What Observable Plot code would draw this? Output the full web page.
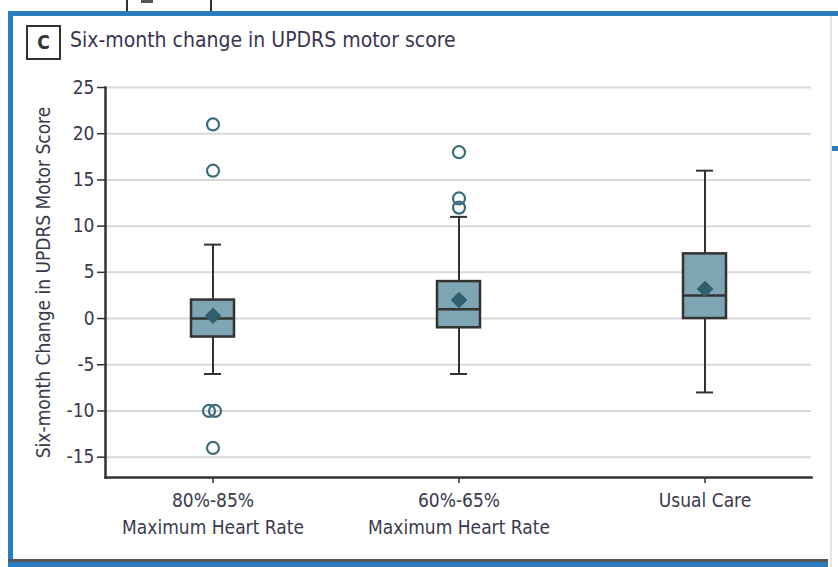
<!DOCTYPE html>
<html>
<head>
<meta charset="utf-8">
<script src="https://cdn.jsdelivr.net/npm/d3@7"></script>
<script src="https://cdn.jsdelivr.net/npm/@observablehq/plot@0.6"></script>
<style>
  html, body { margin: 0; padding: 0; background: #fff; }
  #wrap { position: relative; width: 838px; height: 567px; overflow: hidden; background: #fff;
    font-family: "Liberation Sans Narrow", "DejaVu Sans Condensed", "Roboto Condensed", "Liberation Sans", sans-serif; font-stretch: condensed; }
  #chart { position: absolute; left: 0; top: 0; }
  .frame-left { position: absolute; left: 8px; top: 11px; width: 5px; height: 556px; background: #2a7dc1; }
  .frame-top { position: absolute; left: 8px; top: 11px; width: 830px; height: 5px; background: #2a7dc1; }
  .frame-bottom { position: absolute; left: 8px; top: 562px; width: 820px; height: 5px; background: #2a7dc1; }
  .frame-bottom-dark { position: absolute; left: 8px; top: 559px; width: 820px; height: 3px; background: #555; }
  .frame-right { position: absolute; left: 830px; top: 16px; width: 2px; height: 551px; background: #e6e6e6; }
  .prev-box { position: absolute; left: 126px; top: 0px; width: 82px; height: 11px; border-left: 2px solid #333; border-right: 2px solid #333; }
  .prev-mark { position: absolute; left: 141px; top: 0px; width: 12px; height: 3px; background: #555; }
  .side-mark { position: absolute; left: 832px; top: 146px; width: 6px; height: 5px; background: #2a7dc1; }
  .letter { position: absolute; left: 26px; top: 25px; width: 31px; height: 31px; border: 2px solid #333;
    font-weight: bold; font-size: 19px; line-height: 31px; text-align: center; color: #333; }
  .title { position: absolute; left: 70px; top: 28px; font-size: 21px; color: #3a3550; white-space: nowrap; }
</style>
</head>
<body>
<div id="wrap">
  <div id="chart"></div>
  <div class="prev-box"></div>
  <div class="prev-mark"></div>
  <div class="frame-top"></div>
  <div class="frame-left"></div>
  <div class="frame-right"></div>
  <div class="side-mark"></div>
  <div class="frame-bottom-dark"></div>
  <div class="frame-bottom"></div>
  <div class="letter">C</div>
  <div class="title">Six-month change in UPDRS motor score</div>
</div>
<script>
// ---- data ----
const groups = ["80%-85%", "60%-65%", "Usual Care"];
const groupSubtitle = ["Maximum Heart Rate", "Maximum Heart Rate", ""];
const q1 = [-2, -1, 0];
const median = [0, 1, 2.5];
const q3 = [2, 4, 7];
const whiskerLow = [-6, -6, -8];
const whiskerHigh = [8, 11, 16];
const means = [0.3, 2, 3.2];
const outlierGroup = ["80%-85%", "80%-85%", "80%-85%", "80%-85%", "80%-85%", "60%-65%", "60%-65%", "60%-65%"];
const outlierValue = [21, 16, -10, -10, -14, 18, 13, 12];
const yTicks = [-15, -10, -5, 0, 5, 10, 15, 20, 25];
const yDomain = [-17.2, 25];
const yLabel = "Six-month Change in UPDRS Motor Score";

// ---- build tables ----
const boxes = groups.map((g, i) => ({
  group: g, q1: q1[i], median: median[i], q3: q3[i],
  lo: whiskerLow[i], hi: whiskerHigh[i], mean: means[i]
}));
const counts = {};
const outliers = outlierGroup.map((g, i) => {
  const key = g + "|" + outlierValue[i];
  counts[key] = (counts[key] || 0) + 1;
  return { group: g, value: outlierValue[i], key, occ: counts[key] };
});
outliers.forEach(d => d.n = counts[d.key]);
const single = outliers.filter(d => d.n === 1);
const dupFirst = outliers.filter(d => d.n > 1 && d.occ === 1);
const dupSecond = outliers.filter(d => d.n > 1 && d.occ === 2);

const subtitleOf = Object.fromEntries(groups.map((g, i) => [g, groupSubtitle[i]]));

const font = '"Liberation Sans Narrow", "DejaVu Sans Condensed", "Liberation Sans", sans-serif';
const textColor = "#3a3a4c";
const boxFill = "#7ea5b4";
const dark = "#333";
const teal = "#2f5f6d";
const outlierStroke = "#3d6c7a";

const plot = Plot.plot({
  width: 838,
  height: 567,
  marginLeft: 105,
  marginRight: 27,
  marginTop: 87,
  marginBottom: 90,
  style: { fontFamily: font, fontSize: "19px", color: textColor, background: "transparent" },
  x: { domain: groups, type: "band", paddingInner: 0.5, paddingOuter: 0.18, label: null },
  y: { domain: yDomain, label: null },
  marks: [
    Plot.gridY(yTicks, { stroke: "#d9d9d9", strokeOpacity: 1, strokeWidth: 2 }),
    Plot.axisY(yTicks, { tickSize: 8, tickPadding: 3, stroke: dark, strokeWidth: 1.5, fontSize: 19, fill: textColor, label: null,
      tickFormat: d => String(d) }),
    Plot.axisX({ tickSize: 6, tickPadding: 5, stroke: dark, strokeWidth: 1.5, fontSize: 19, fill: textColor, lineHeight: 1.4, label: null,
      tickFormat: d => subtitleOf[d] ? d + "\n" + subtitleOf[d] : d }),
    Plot.frame({ anchor: "left", stroke: dark, strokeWidth: 2.5 }),
    Plot.frame({ anchor: "bottom", stroke: dark, strokeWidth: 2.5 }),
    Plot.text([yLabel], { frameAnchor: "left", textAnchor: "middle", rotate: -90, dx: -62, fontSize: 19, fill: textColor, text: d => d }),
    // whiskers
    Plot.ruleX(boxes, { x: "group", y1: "lo", y2: "q1", stroke: dark, strokeWidth: 2 }),
    Plot.ruleX(boxes, { x: "group", y1: "q3", y2: "hi", stroke: dark, strokeWidth: 2 }),
    Plot.tickY(boxes, { x: "group", y: "lo", stroke: dark, strokeWidth: 2, insetLeft: 53, insetRight: 53 }),
    Plot.tickY(boxes, { x: "group", y: "hi", stroke: dark, strokeWidth: 2, insetLeft: 53, insetRight: 53 }),
    // boxes
    Plot.barY(boxes, { x: "group", y1: "q1", y2: "q3", fill: boxFill, stroke: dark, strokeWidth: 2.5, insetLeft: 40, insetRight: 40 }),
    Plot.tickY(boxes, { x: "group", y: "median", stroke: dark, strokeWidth: 2.5, insetLeft: 40, insetRight: 40 }),
    // means
    Plot.dot(boxes, { x: "group", y: "mean", symbol: "diamond2", r: 7, fill: teal, stroke: teal, strokeWidth: 1 }),
    // outliers
    Plot.dot(single, { x: "group", y: "value", r: 6, stroke: outlierStroke, strokeWidth: 2.2, fill: "none" }),
    Plot.dot(dupFirst, { x: "group", y: "value", r: 6, dx: -4, stroke: outlierStroke, strokeWidth: 2.2, fill: "none" }),
    Plot.dot(dupSecond, { x: "group", y: "value", r: 6, dx: 2, stroke: outlierStroke, strokeWidth: 2.2, fill: "none" })
  ]
});
document.getElementById("chart").appendChild(plot);
</script>
</body>
</html>
